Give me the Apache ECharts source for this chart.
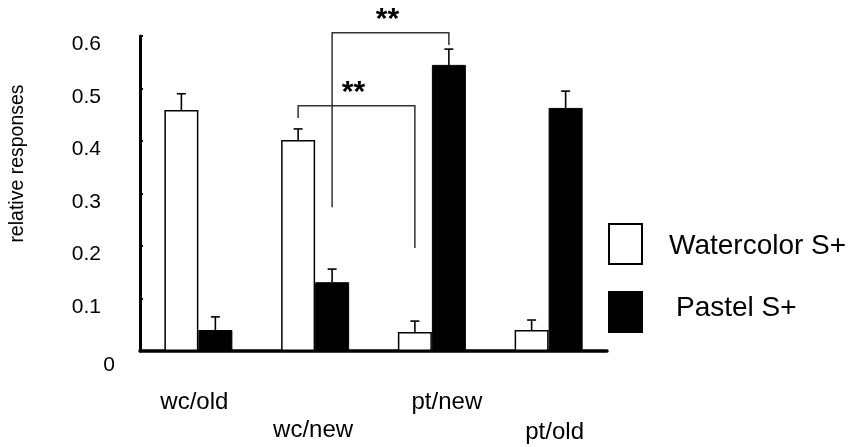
<!DOCTYPE html>
<html>
<head>
<meta charset="utf-8">
<script src="https://cdn.jsdelivr.net/npm/echarts@6/dist/echarts.min.js"></script>
<style>html,body{margin:0;padding:0;background:#fff}#c{width:856px;height:447px}</style>
</head>
<body>
<div id="c"></div>
<script>
const categories = ['wc/old', 'wc/new', 'pt/new', 'pt/old'];
const watercolor = [0.459, 0.402, 0.036, 0.040];
const watercolorErr = [0.031, 0.021, 0.021, 0.019];
const pastel = [0.040, 0.131, 0.545, 0.463];
const pastelErr = [0.025, 0.025, 0.030, 0.032];
const yTickValues = [0, 0.1, 0.2, 0.3, 0.4, 0.5, 0.6];
// [leftCategory, leftSeries(-1 watercolor, 1 pastel), rightCategory, rightSeries]
const bracketEnds = [[1, 1, 2, 1], [1, -1, 2, -1]];
// [top, leftFoot, rightFoot]
const bracketLevels = [[0.606, 0.274, 0.583], [0.467, 0.444, 0.196]];
const bracketLabels = ['**', '**'];

const FONT = '"Liberation Sans", Arial, Helvetica, sans-serif';
const HALF = 17;

const errData = [];
watercolor.forEach((v, i) => errData.push([i, v, watercolorErr[i], -1]));
pastel.forEach((v, i) => errData.push([i, v, pastelErr[i], 1]));

const brData = bracketEnds.map((e, i) => [e[0], bracketLevels[i][0], e[1], e[2], e[3], bracketLevels[i][1], bracketLevels[i][2], i]);

const chart = echarts.init(document.getElementById('c'));
chart.setOption({
  animation: false,
  backgroundColor: '#fff',
  textStyle: { fontFamily: FONT },
  grid: { left: 140, right: 249, top: 36, bottom: 96, containLabel: false },
  legend: {
    data: ['Watercolor S+', 'Pastel S+'],
    orient: 'vertical', left: 608, top: 223, padding: 0,
    itemWidth: 33, itemHeight: 40, itemGap: 26, icon: 'rect',
    formatter: n => n === 'Pastel S+' ? '{p|' + n + '}' : '{w|' + n + '}',
    textStyle: {
      fontFamily: FONT, fontSize: 28, color: '#000',
      rich: {
        w: { fontFamily: FONT, fontSize: 28, color: '#000', padding: [5, 0, 0, 22] },
        p: { fontFamily: FONT, fontSize: 28, color: '#000', padding: [0, 0, 8, 29] }
      }
    }
  },
  xAxis: {
    type: 'category', data: categories,
    axisLine: { lineStyle: { color: '#000', width: 3.5 } },
    axisTick: { show: false },
    axisLabel: {
      margin: 39, verticalAlign: 'top',
      formatter: (v, i) => ['{a|', '{b|', '{c|', '{d|'][i] + v + '}',
      rich: {
        a: { fontFamily: FONT, fontSize: 24, color: '#000', padding: [0, 8, 0, 0] },
        b: { fontFamily: FONT, fontSize: 24, color: '#000', padding: [28, 4, 0, 0] },
        c: { fontFamily: FONT, fontSize: 24, color: '#000', padding: [0, 0, 0, 30] },
        d: { fontFamily: FONT, fontSize: 24, color: '#000', padding: [30, 0, 0, 12] }
      }
    }
  },
  yAxis: {
    type: 'value', min: 0, max: 0.6, interval: 0.1,
    name: 'relative responses', nameLocation: 'middle', nameGap: 112, nameRotate: 90,
    nameTextStyle: { fontFamily: FONT, fontSize: 19.5, color: '#000', padding: [0, 0, 0, 60] },
    axisLine: { show: true, lineStyle: { color: '#000', width: 3 } },
    axisTick: { show: true, inside: true, length: 3, lineStyle: { color: '#000', width: 2 } },
    splitLine: { show: false },
    axisLabel: {
      margin: 25,
      formatter: v => {
        const t = yTickValues.find(x => Math.abs(x - v) < 1e-9);
        return t === 0 ? '{z|0}' : '{n|' + (Math.round(v * 10) / 10).toFixed(1) + '}';
      },
      rich: {
        n: { fontFamily: FONT, fontSize: 21, color: '#000', padding: [17, 14, 0, 0] },
        z: { fontFamily: FONT, fontSize: 21, color: '#000', padding: [28, 0, 0, 0] }
      }
    }
  },
  series: [
    {
      name: 'Watercolor S+', type: 'bar', data: watercolor, barWidth: 34, barGap: '0%',
      itemStyle: { color: '#fff', borderColor: '#000', borderWidth: 1.5 }
    },
    {
      name: 'Pastel S+', type: 'bar', data: pastel, barWidth: 34, barGap: '0%',
      itemStyle: { color: '#000', borderColor: '#000', borderWidth: 1 }
    },
    {
      type: 'custom', name: 'err', data: errData, clip: false, z: 5,
      encode: { x: 0, y: 1 },
      renderItem: (params, api) => {
        const c = api.value(0), v = api.value(1), e = api.value(2), s = api.value(3);
        const b = api.coord([c, v]), t = api.coord([c, v + e]);
        const x = b[0] + s * HALF;
        const st = { stroke: '#000', lineWidth: 1.6 };
        return { type: 'group', children: [
          { type: 'line', shape: { x1: x, y1: b[1], x2: x, y2: t[1] }, style: st },
          { type: 'line', shape: { x1: x - 4.5, y1: t[1], x2: x + 4.5, y2: t[1] }, style: st }
        ] };
      }
    },
    {
      type: 'custom', name: 'sig', data: brData, clip: false, z: 6,
      encode: { x: 0, y: 1 },
      renderItem: (params, api) => {
        const lc = api.value(0), top = api.value(1), ls = api.value(2), rc = api.value(3), rs = api.value(4);
        const lf = api.value(5), rf = api.value(6), idx = api.value(7);
        const xl = api.coord([lc, 0])[0] + ls * HALF;
        const xr = api.coord([rc, 0])[0] + rs * HALF;
        const yt = api.coord([0, top])[1];
        const yl = api.coord([0, lf])[1];
        const yr = api.coord([0, rf])[1];
        const st = { stroke: '#333', lineWidth: 1.5 };
        return { type: 'group', children: [
          { type: 'polyline', shape: { points: [[xl, yl], [xl, yt], [xr, yt], [xr, yr]] }, style: Object.assign({ fill: null }, st) },
          { type: 'text', style: { text: bracketLabels[idx], x: (xl + xr) / 2 - 3, y: yt - 13, align: 'center', verticalAlign: 'middle', fontFamily: FONT, fontSize: 30, fontWeight: 'bold', fill: '#000' } }
        ] };
      }
    }
  ]
});
</script>
</body>
</html>
